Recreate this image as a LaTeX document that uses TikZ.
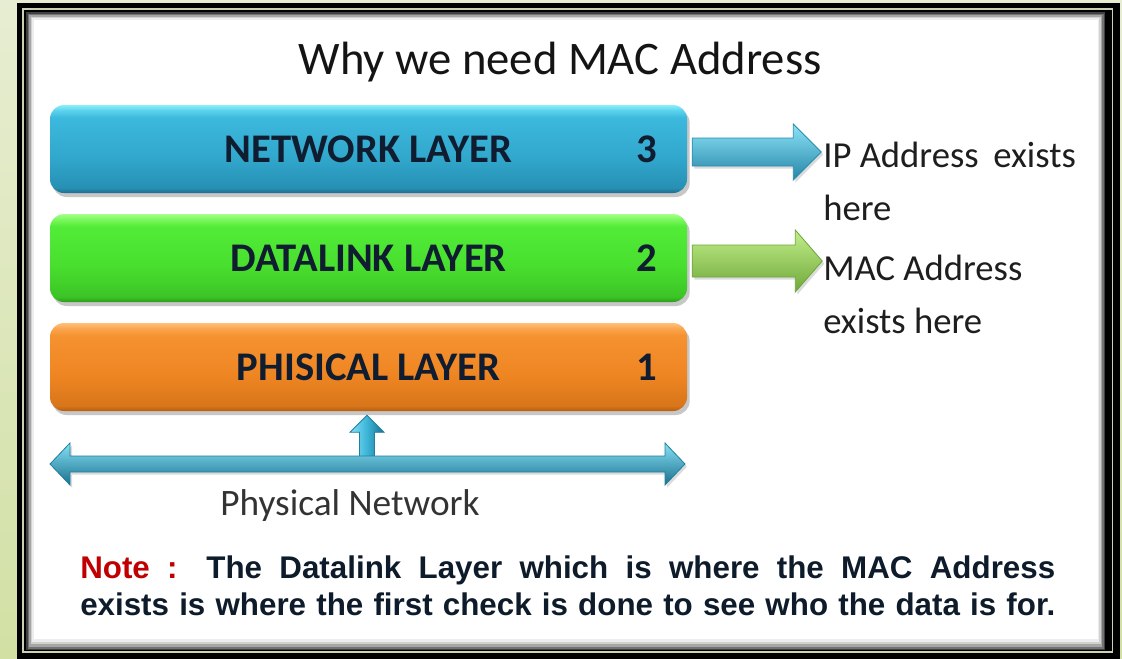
\documentclass[tikz,border=0pt]{standalone}
\usepackage{fontspec}
\setmainfont{Carlito}
\newfontfamily\notefont{Liberation Sans}
\usetikzlibrary{calc,shadows}

% page and frame colours
\definecolor{bgtop}{HTML}{E7EDD2}
\definecolor{bgbot}{HTML}{D2E0A4}
\definecolor{framelight}{HTML}{C9D3B4}
% text colours
\definecolor{ink}{HTML}{101C30}
\definecolor{sideink}{HTML}{1E1E1E}
\definecolor{notered}{HTML}{C00000}
\definecolor{noteink}{HTML}{0D1B2A}
% layer box colours
\definecolor{netD}{HTML}{1E6F8E}\definecolor{netB}{HTML}{2790B4}\definecolor{netM}{HTML}{31A7CC}
\definecolor{netU}{HTML}{3CB9DD}\definecolor{netH}{HTML}{5CD4EE}\definecolor{netL}{HTML}{8AEEFB}
\definecolor{dlD}{HTML}{2D9A1C}\definecolor{dlB}{HTML}{3CC426}\definecolor{dlM}{HTML}{48DE2E}
\definecolor{dlU}{HTML}{52EC38}\definecolor{dlH}{HTML}{7CF85E}\definecolor{dlL}{HTML}{A4FF8C}
\definecolor{phD}{HTML}{B35F10}\definecolor{phB}{HTML}{D8761A}\definecolor{phM}{HTML}{EE8522}
\definecolor{phU}{HTML}{F69230}\definecolor{phH}{HTML}{FBA650}\definecolor{phL}{HTML}{FFC07A}
% block arrow colours
\definecolor{barTop}{HTML}{8CE4F6}\definecolor{barMid}{HTML}{3FB6DA}\definecolor{barBot}{HTML}{2585A8}
\definecolor{barLine}{HTML}{2A8CB0}
\definecolor{garTop}{HTML}{C2EE8A}\definecolor{garMid}{HTML}{95CC55}\definecolor{garBot}{HTML}{6FA83A}
\definecolor{garLine}{HTML}{6EA63A}
\definecolor{busTop}{HTML}{86E2F4}\definecolor{busMid}{HTML}{3CB4D8}\definecolor{busBot}{HTML}{1B6F8E}
\definecolor{busLine}{HTML}{1F7FA0}

\pgfdeclareverticalshading{netshade}{100bp}{color(0bp)=(netD); color(25bp)=(netD); color(28bp)=(netB);
  color(45bp)=(netM); color(68bp)=(netU); color(72bp)=(netH); color(75bp)=(netL); color(100bp)=(netL)}
\pgfdeclareverticalshading{dlshade}{100bp}{color(0bp)=(dlD); color(25bp)=(dlD); color(28bp)=(dlB);
  color(45bp)=(dlM); color(68bp)=(dlU); color(72bp)=(dlH); color(75bp)=(dlL); color(100bp)=(dlL)}
\pgfdeclareverticalshading{phshade}{100bp}{color(0bp)=(phD); color(25bp)=(phD); color(28bp)=(phB);
  color(45bp)=(phM); color(68bp)=(phU); color(72bp)=(phH); color(75bp)=(phL); color(100bp)=(phL)}

% horizontal block arrow: style, start, body length, head length, half body, half head
\newcommand{\hblockarrow}[6]{%
  \path[#1] (#2) ++(0,-#5) -- ++(#3,0) -- ++(0,{#5-#6}) -- ++(#4,#6)
    -- ++(-#4,#6) -- ++(0,{#5-#6}) -- ++(-#3,0) -- cycle;}

\begin{document}
\begin{tikzpicture}[x=0.75pt,y=-0.75pt,
  layerbox/.style={rectangle, rounded corners=10.5pt, minimum width=477.75pt, minimum height=66pt,
    inner sep=0pt, font=\fontsize{30.5}{32}\selectfont\bfseries, text=ink,
    drop shadow={shadow xshift=2pt, shadow yshift=-3pt, fill=black!55, opacity=0.4}},
  layernum/.style={inner sep=0pt, font=\fontsize{30.5}{32}\selectfont\bfseries, text=ink},
  sidelabel/.style={anchor=base west, inner sep=0pt, font=\fontsize{27.5}{40}\selectfont, text=sideink},
  bluearrow/.style={top color=barTop, middle color=barMid, bottom color=barBot, draw=barLine, line width=0.6pt,
    drop shadow={shadow xshift=1.5pt, shadow yshift=-2pt, fill=black!40, opacity=0.35}},
  greenarrow/.style={top color=garTop, middle color=garMid, bottom color=garBot, draw=garLine, line width=0.6pt,
    drop shadow={shadow xshift=1.5pt, shadow yshift=-2pt, fill=black!40, opacity=0.35}},
  busarrow/.style={top color=busTop, middle color=busMid, bottom color=busBot, draw=busLine, line width=0.6pt,
    drop shadow={shadow xshift=1.5pt, shadow yshift=-2pt, fill=black!40, opacity=0.35}},
  uparrow/.style={left color=busTop, right color=busBot, middle color=busMid, draw=busLine, line width=0.6pt}]

\useasboundingbox (0,0) rectangle (1122,658);

% page background
\shade[top color=bgtop, bottom color=bgbot] (0,0) rectangle (1122,658);

% double black frame with a thin light rule between the bands
\fill[black] (17,3) rectangle (1120,660);
\draw[framelight, line width=0.9pt] (23,9) rectangle (1112.5,652);

% white panel with a soft inner shadow
\fill[black!75] (26,12) rectangle (1105,650);
\fill[black!55] (27.5,13.5) rectangle (1103.5,648.5);
\fill[black!35] (29,15) rectangle (1102,646.5);
\fill[black!18] (30.5,16.5) rectangle (1100.5,644);
\fill[black!7]  (32,18) rectangle (1099,641.5);
\fill[white]    (33.5,19.5) rectangle (1097.5,639);

% title
\node[anchor=base, inner sep=0pt, font=\fontsize{35}{40}\selectfont, text=black!92] (title) at (560,74)
  {Why we need MAC Address};

% the three layers
\node[layerbox, shading=netshade] (netbox) at (368.5,149) {NETWORK LAYER};
\node[layerbox, shading=dlshade]  (dlbox)  at (368.5,258) {DATALINK LAYER};
\node[layerbox, shading=phshade]  (phbox)  at (368.5,367) {PHISICAL LAYER};

\node[layernum] (netnum) at ($(netbox.east)+(-40,0)$) {3};
\node[layernum] (dlnum)  at ($(dlbox.east)+(-40,0)$)  {2};
\node[layernum] (phnum)  at ($(phbox.east)+(-40,0)$)  {1};

% labels on the right
\node[sidelabel] (iplabel) at (823,167)
  {\parbox[t]{250pt}{\raggedright IP Address\hspace{0.4em}exists\\here}};
\node[sidelabel] (maclabel) at (823,280)
  {\parbox[t]{250pt}{\raggedright MAC Address\\exists here}};

% arrows from the layers to their labels
\coordinate (netout) at ($(netbox.east)+(5,3)$);
\coordinate (dlout)  at ($(dlbox.east)+(5,3)$);
\hblockarrow{bluearrow}{netout}{101}{28}{14}{28}
\hblockarrow{greenarrow}{dlout}{103}{27}{16}{31}

% physical network bus and the link up to the physical layer
\coordinate (busL) at (50,464);
\coordinate (busR) at (685,464);
\coordinate (upTip) at ($(phbox.south)+(-1.5,4)$);

\path[uparrow] (upTip) -- ++(17,17) -- ++(-9.5,0) -- ($(busL -| upTip)+(7.5,0)$)
  -- ($(busL -| upTip)+(-7.5,0)$) -- ($(upTip)+(-7.5,17)$) -- ++(-9.5,0) -- cycle;

\path[busarrow] (busL) -- ($(busL)+(20,-21)$) -- ($(busL)+(20,-8)$) -- ($(busR)+(-20,-8)$)
  -- ($(busR)+(-20,-21)$) -- (busR) -- ($(busR)+(-20,21)$) -- ($(busR)+(-20,8)$)
  -- ($(busL)+(20,8)$) -- ($(busL)+(20,21)$) -- cycle;

\node[anchor=base, inner sep=0pt, font=\fontsize{28}{32}\selectfont, text=black!80] (physnet) at (350,515)
  {Physical Network};

% note at the foot of the panel
\node[anchor=base west, inner sep=0pt, text=noteink] (note) at (80,578)
  {\parbox[t]{731.25pt}{\notefont\bfseries\fontsize{23.5}{28}\selectfont
   \parindent=0pt\parfillskip=0pt\hyphenpenalty=10000\emergencystretch=20pt
   \noindent\textcolor{notered}{Note :} The Datalink Layer which is where the MAC Address\linebreak
   exists is where the first check is done to see who the data is for.}};

\end{tikzpicture}
\end{document}
